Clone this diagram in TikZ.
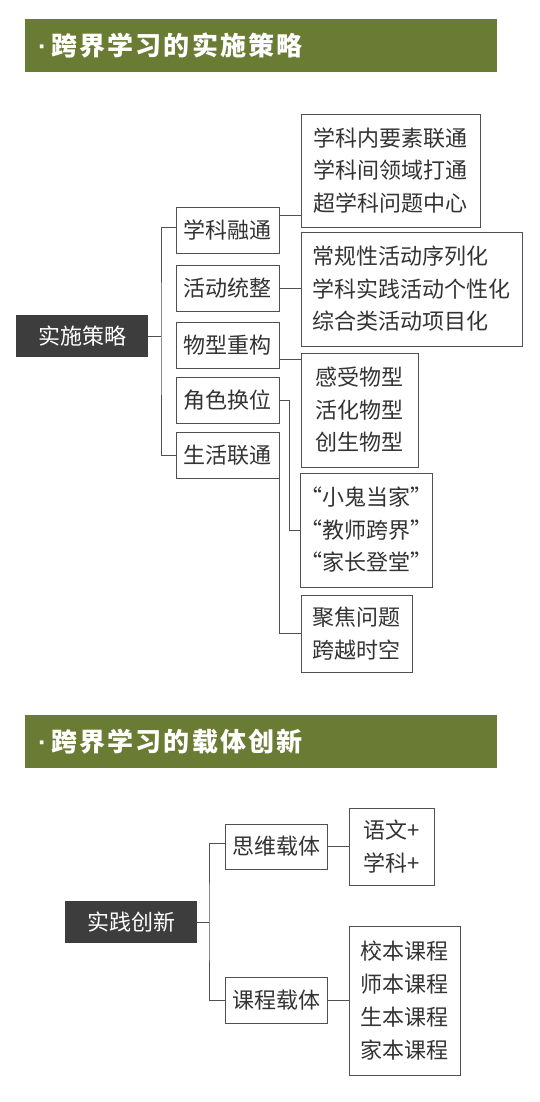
\documentclass[tikz,border=0pt]{standalone}
\usepackage{fontspec}
\setmainfont{Noto Sans CJK SC}
\newfontfamily\latinf{Liberation Sans}
\usepackage{tikz}

\definecolor{hdrgreen}{HTML}{6A7B34}
\definecolor{rootgray}{HTML}{3D3D3D}
\definecolor{boxline}{HTML}{505050}
\definecolor{txt}{HTML}{333333}

\newcommand{\hdot}{{\latinf\bfseries\fontsize{26}{30}\selectfont ·}\kern5pt}

\tikzset{
  hdr/.style = {fill=hdrgreen, minimum width=472pt, minimum height=53pt, text width=446pt,
    align=left, inner xsep=13pt, text=white,
    font=\fontsize{26}{30}\selectfont\bfseries\addfontfeature{LetterSpace=8}},
  root/.style = {fill=rootgray, text=white, minimum width=132pt, minimum height=42pt,
    inner sep=0pt, font=\fontsize{22}{26}\selectfont},
  item/.style = {draw=boxline, line width=.9pt, fill=white, text=txt, minimum width=103pt,
    minimum height=46pt, inner sep=0pt, font=\fontsize{22}{26}\selectfont},
  leaf/.style = {draw=boxline, line width=.9pt, fill=white, text=txt, align=left,
    inner sep=0pt, font=\fontsize{22}{32.5}\selectfont},
  link/.style = {draw=boxline, line width=.9pt}
}

\begin{document}
\begin{tikzpicture}[x=1pt, y=-1pt]
  \useasboundingbox[fill=white] (0,0) rectangle (540,1102);

  % first part
  \node[hdr] (h1) at (261,45.5) {\hdot 跨界学习的实施策略};

  \node[root] (r1) at (82,336) {实施策略};
  \node[item] (s1) at (227.5,230) {学科融通};
  \node[item] (s2) at (227.5,288) {活动统整};
  \node[item] (s3) at (227.5,345.5) {物型重构};
  \node[item] (s4) at (227.5,400) {角色换位};
  \node[item] (s5) at (227.5,455) {生活联通};

  \node[leaf, minimum width=179pt, minimum height=113pt] (a) at (390.5,170.5)
    {学科内要素联通\\学科间领域打通\\超学科问题中心};
  \node[leaf, minimum width=221pt, minimum height=114pt] (b) at (411.5,289)
    {常规性活动序列化\\学科实践活动个性化\\综合类活动项目化};
  \node[leaf, minimum width=117pt, minimum height=114pt] (c) at (359.5,410)
    {感受物型\\活化物型\\创生物型};
  \node[leaf, minimum width=131pt, minimum height=114pt] (d) at (366.5,530)
    {“小鬼当家”\\“教师跨界”\\“家长登堂”};
  \node[leaf, minimum width=111pt, minimum height=77pt] (e) at (356.5,633.5)
    {聚焦问题\\跨越时空};

  \coordinate (tr1) at (161,336);
  \draw[link] (r1.east) -- (tr1);
  \draw[link] ([yshift=3pt]s1.west) -| (tr1) |- (s5.west);

  \coordinate (j1) at ([yshift=15pt]s1.east);
  \coordinate (j3) at ([yshift=-13.5pt]s3.east);
  \draw[link] (j1) -- (j1 -| a.west);
  \draw[link] (s2.east) -- (s2.east -| b.west);
  \draw[link] (j3) -- (j3 -| c.west);
  \draw[link] (s4.east) -- ++(10,0) |- (d.west);
  \draw[link] (s5.south east) |- (e.west);

  % second part
  \node[hdr] (h2) at (261,741.5) {\hdot 跨界学习的载体创新};

  \node[root] (r2) at (131,922) {实践创新};
  \node[item, minimum width=102pt, minimum height=45pt] (m1) at (276,846.5) {思维载体};
  \node[item, minimum width=102pt] (m2) at (276,1000) {课程载体};

  \node[leaf, minimum width=85pt, minimum height=77pt] (p) at (391.5,846.5)
    {语文+\\学科+};
  \node[leaf, minimum width=111pt, minimum height=149pt, font=\fontsize{22}{33}\selectfont] (q) at (404.5,1000.5)
    {校本课程\\师本课程\\生本课程\\家本课程};

  \coordinate (tr2) at (209,922);
  \draw[link] (r2.east) -- (tr2);
  \draw[link] ([yshift=3.5pt]m1.west) -| (tr2) |- (m2.west);
  \draw[link] (m1.east) -- (m1.east -| p.west);
  \draw[link] (m2.east) -- (m2.east -| q.west);
\end{tikzpicture}
\end{document}
